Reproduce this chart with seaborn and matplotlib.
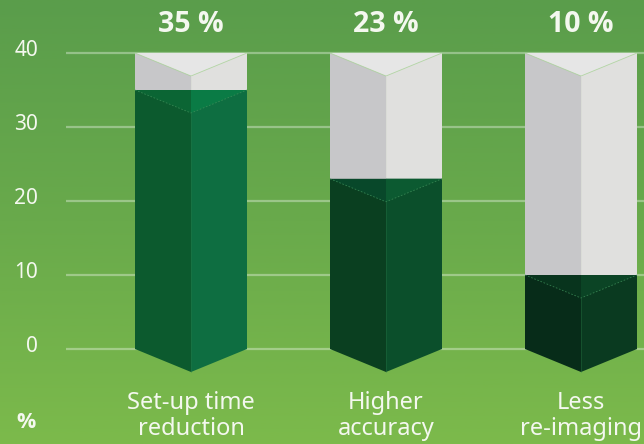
import numpy as np
import pandas as pd
import matplotlib
matplotlib.use("Agg")
import matplotlib.pyplot as plt
import seaborn as sns
from matplotlib.colors import LinearSegmentedColormap
from matplotlib import font_manager

# ---- data ----
categories = ["Set-up time\nreduction", "Higher\naccuracy", "Less\nre-imaging"]
values = [35, 23, 10]
value_labels = ["35 %", "23 %", "10 %"]
scale_max = 40
yticks = [0, 10, 20, 30, 40]

# ---- styles ----
left_face = ["#0c5a2e", "#0a3f20", "#072c19"]
right_face = ["#0e6e41", "#0b4f2b", "#0a3a20"]
top_left = ["#0b6534", "#08482a", "#08341d"]
top_right = ["#0a7b45", "#0c5a31", "#0b4425"]
gray_left = "#c7c7c9"
gray_right = "#e0e0de"
gray_top = "#e6e6e6"
edge_line = "#9ed08a"
txt = "#f4f8ef"

sns.set_theme(style="white")
names = {f.name for f in font_manager.fontManager.ttflist}
fam = "Noto Sans" if "Noto Sans" in names else "DejaVu Sans"
bold_fam = "Open Sans" if "Open Sans" in names else "DejaVu Sans"
plt.rcParams["font.family"] = [fam, "DejaVu Sans"]

fig = plt.figure(figsize=(6.44, 4.44), dpi=100)
ax = fig.add_axes([0, 0, 1, 1])

# pixel mapping: x_px = 191 + 195*i ; y_px = 349 - 7.4*v
xlim = ((0 - 191) / 195, (644 - 191) / 195)
ylim = ((349 - 444) / 7.4, 349 / 7.4)

w = 56 / 195          # half width
d = 23 / 7.4          # depth of V in value units

df = pd.DataFrame({"cat": categories, "val": values, "full": [scale_max] * 3})

# background gradient (light at bottom, dark at top)
grad = np.linspace(0, 1, 256).reshape(-1, 1)
cmap = LinearSegmentedColormap.from_list("bg", ["#7cba4b", "#69aa4b", "#5a9d4b"])
ax.imshow(grad, extent=[xlim[0], xlim[1], ylim[0], ylim[1]], aspect="auto",
          cmap=cmap, zorder=0, origin="lower")

# grid lines
gx0 = (66 - 191) / 195
ax.hlines(yticks, gx0, xlim[1], colors="#ffffff", alpha=0.35, linewidth=1.6, zorder=1)

# base bars via seaborn (left faces)
sns.barplot(data=df, x="cat", y="full", color=gray_left, width=2 * w,
            saturation=1, ax=ax, zorder=2, edgecolor="none")
for i, v in enumerate(values):
    x = i
    ax.fill([x, x + w, x + w, x], [v, v, scale_max, scale_max], color=gray_right, zorder=3, lw=0)
    ax.fill([x - w, x + w, x], [scale_max, scale_max, scale_max - d], color=gray_top, zorder=4, lw=0)
    ax.plot([x - w, x, x + w], [scale_max, scale_max - d, scale_max], color=edge_line, lw=0.6, zorder=5, alpha=0.7)
    ax.plot([x, x], [v, scale_max - d], color="#d9dcd6", lw=0.6, zorder=5)
    ax.fill([x - w, x, x, x - w], [0, -d, v, v], color=left_face[i], zorder=6, lw=0)
    ax.fill([x, x + w, x + w, x], [-d, 0, v, v], color=right_face[i], zorder=6, lw=0)
    ax.fill([x - w, x, x], [v, v, v - d], color=top_left[i], zorder=7, lw=0)
    ax.fill([x, x + w, x], [v, v, v - d], color=top_right[i], zorder=7, lw=0)
    ax.plot([x - w, x, x + w], [v, v - d, v], color="#3f8f5a", lw=0.6, ls=(0, (2, 2)), zorder=8, alpha=0.8)
    ax.plot([x, x], [-d, v - d], color="#2a7a48", lw=0.5, zorder=8, alpha=0.5)
    ax.text(x, (349 - 24) / 7.4, value_labels[i], ha="center", va="center",
            fontsize=20.5, fontweight="bold", family=[bold_fam, "DejaVu Sans"],
            color=txt, zorder=9)
    ax.text(x, (349 - 416) / 7.4, categories[i], ha="center", va="center",
            fontsize=17, color=txt, linespacing=1.08, zorder=9)

for t in yticks:
    ax.text((38 - 191) / 195, t + 0.3, str(t), ha="right", va="center",
            fontsize=15, color=txt, zorder=9)
ax.text((26 - 191) / 195, (349 - 422) / 7.4, "%", ha="center", va="center",
        fontsize=15.5, fontweight="bold", family=[bold_fam, "DejaVu Sans"],
        color=txt, zorder=9)

ax.set_xlim(*xlim)
ax.set_ylim(*ylim)
ax.axis("off")
fig.savefig("out.png", dpi=100)
